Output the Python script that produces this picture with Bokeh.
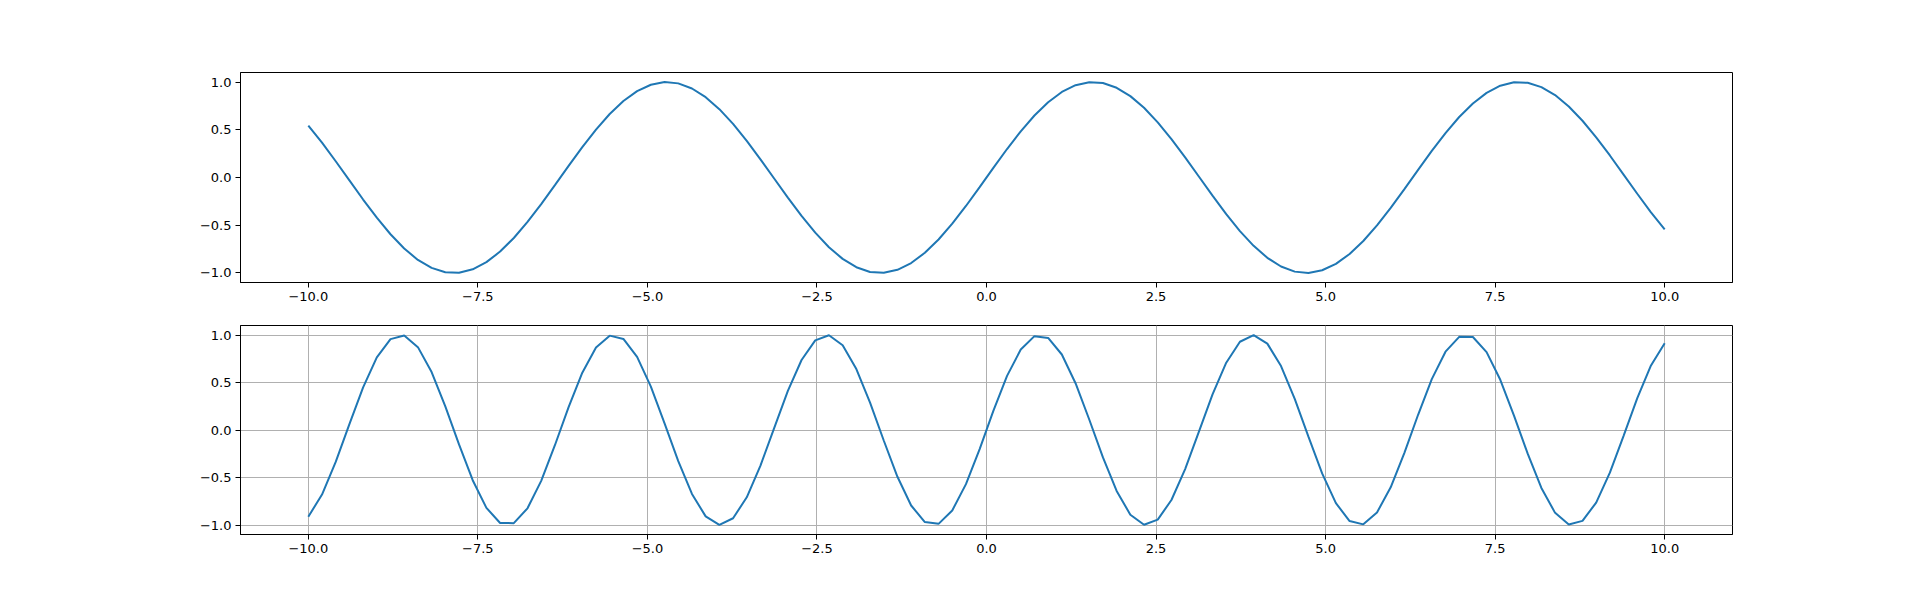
from bokeh.plotting import figure
from bokeh.layouts import column
from bokeh.models import Range1d, FixedTicker, CustomJSTickFormatter
from bokeh.embed import file_html
from bokeh.resources import INLINE

# x sample positions (100 samples from -10 to 10)
x_vals = [
    -10.000, -9.798, -9.596, -9.394, -9.192, -8.990, -8.788, -8.586, -8.384, -8.182,
    -7.980, -7.778, -7.576, -7.374, -7.172, -6.970, -6.768, -6.566, -6.364, -6.162,
    -5.960, -5.758, -5.556, -5.354, -5.152, -4.949, -4.747, -4.545, -4.343, -4.141,
    -3.939, -3.737, -3.535, -3.333, -3.131, -2.929, -2.727, -2.525, -2.323, -2.121,
    -1.919, -1.717, -1.515, -1.313, -1.111, -0.909, -0.707, -0.505, -0.303, -0.101,
    0.101, 0.303, 0.505, 0.707, 0.909, 1.111, 1.313, 1.515, 1.717, 1.919,
    2.121, 2.323, 2.525, 2.727, 2.929, 3.131, 3.333, 3.535, 3.737, 3.939,
    4.141, 4.343, 4.545, 4.747, 4.949, 5.152, 5.354, 5.556, 5.758, 5.960,
    6.162, 6.364, 6.566, 6.768, 6.970, 7.172, 7.374, 7.576, 7.778, 7.980,
    8.182, 8.384, 8.586, 8.788, 8.990, 9.192, 9.394, 9.596, 9.798, 10.000,
]

# top panel series
top_vals = [
    0.5440, 0.3646, 0.1704, -0.0309, -0.2308, -0.4214, -0.5946, -0.7440, -0.8636, -0.9466,
    -0.9920, -0.9971, -0.9616, -0.8869, -0.7761, -0.6338, -0.4658, -0.2788, -0.0803, 0.1213,
    0.3180, 0.5017, 0.6651, 0.8013, 0.9053, 0.9720, 0.9994, 0.9861, 0.9327, 0.8413,
    0.7158, 0.5611, 0.3837, 0.1905, -0.0103, -0.2107, -0.4025, -0.5780, -0.7301, -0.8526,
    -0.9400, -0.9893, -0.9985, -0.9670, -0.8962, -0.7890, -0.6496, -0.4839, -0.2984, -0.1008,
    0.1008, 0.2984, 0.4839, 0.6496, 0.7890, 0.8962, 0.9670, 0.9985, 0.9893, 0.9400,
    0.8526, 0.7301, 0.5780, 0.4025, 0.2107, 0.0103, -0.1905, -0.3837, -0.5611, -0.7158,
    -0.8413, -0.9327, -0.9861, -0.9994, -0.9720, -0.9053, -0.8013, -0.6651, -0.5017, -0.3180,
    -0.1213, 0.0803, 0.2788, 0.4658, 0.6338, 0.7761, 0.8869, 0.9616, 0.9971, 0.9920,
    0.9466, 0.8636, 0.7440, 0.5946, 0.4214, 0.2308, 0.0309, -0.1704, -0.3646, -0.5440,
]

# bottom panel series
bottom_vals = [
    -0.9129, -0.6792, -0.3357, 0.0617, 0.4491, 0.7642, 0.9563, 0.9943, 0.8722, 0.6097,
    0.2490, -0.1517, -0.5283, -0.8195, -0.9787, -0.9805, -0.8244, -0.5355, -0.1603, 0.2406,
    0.6028, 0.8683, 0.9933, 0.9587, 0.7697, 0.4568, 0.0703, -0.3275, -0.6726, -0.9093,
    -0.9997, -0.9290, -0.7087, -0.3744, 0.0203, 0.4117, 0.7368, 0.9434, 0.9978, 0.8918,
    0.6418, 0.2889, -0.1107, -0.4925, -0.7947, -0.9696, -0.9878, -0.8471, -0.5700, -0.2011,
    0.2011, 0.5700, 0.8471, 0.9878, 0.9696, 0.7947, 0.4925, 0.1107, -0.2889, -0.6418,
    -0.8918, -0.9978, -0.9434, -0.7368, -0.4117, -0.0203, 0.3744, 0.7087, 0.9290, 0.9997,
    0.9093, 0.6726, 0.3275, -0.0703, -0.4568, -0.7697, -0.9587, -0.9933, -0.8683, -0.6028,
    -0.2406, 0.1603, 0.5355, 0.8244, 0.9805, 0.9787, 0.8195, 0.5283, 0.1517, -0.2490,
    -0.6097, -0.8722, -0.9943, -0.9563, -0.7642, -0.4491, -0.0617, 0.3357, 0.6792, 0.9129,
]

x_ticks = [-10.0, -7.5, -5.0, -2.5, 0.0, 2.5, 5.0, 7.5, 10.0]
y_ticks = [-1.0, -0.5, 0.0, 0.5, 1.0]

LINE_COLOR = "#1f77b4"
FONT = "DejaVu Sans"

fmt_code = 'return (tick < 0 ? "\\u2212" : "") + Math.abs(tick).toFixed(1);'


def make_fig(yvals, grid, min_top, min_bottom, height):
    p = figure(
        width=1830, height=height,
        x_range=Range1d(-11, 11), y_range=Range1d(-1.1, 1.1),
        output_backend="svg", toolbar_location=None,
        min_border_left=240, min_border_right=98,
        min_border_top=min_top, min_border_bottom=min_bottom,
        background_fill_color="white", border_fill_color="white",
    )
    p.line(x_vals, yvals, line_color=LINE_COLOR, line_width=2)
    p.outline_line_color = "black"
    p.outline_line_width = 1
    p.outline_line_alpha = 1
    p.xaxis.ticker = FixedTicker(ticks=x_ticks)
    p.yaxis.ticker = FixedTicker(ticks=y_ticks)
    for ax in (p.xaxis[0], p.yaxis[0]):
        ax.formatter = CustomJSTickFormatter(code=fmt_code)
        ax.major_label_text_font = FONT
        ax.major_label_text_font_size = "13px"
        ax.major_label_text_color = "black"
        ax.major_tick_in = 0
        ax.major_tick_out = 5
        ax.major_tick_line_color = "black"
        ax.major_tick_line_width = 1
        ax.minor_tick_line_color = None
        ax.axis_line_color = "black"
        ax.axis_line_width = 1
        ax.major_label_standoff = 4
    if grid:
        p.grid.grid_line_color = "#b0b0b0"
        p.grid.grid_line_width = 1
    else:
        p.grid.grid_line_color = None
    return p


# top frame: y 72..282 ; bottom frame: y 325..534
p1 = make_fig(top_vals, False, 72, 30, 312)
p2 = make_fig(bottom_vals, True, 13, 40, 262)

layout = column(p1, p2, spacing=0)

open("out.html", "w").write(file_html(layout, INLINE))
